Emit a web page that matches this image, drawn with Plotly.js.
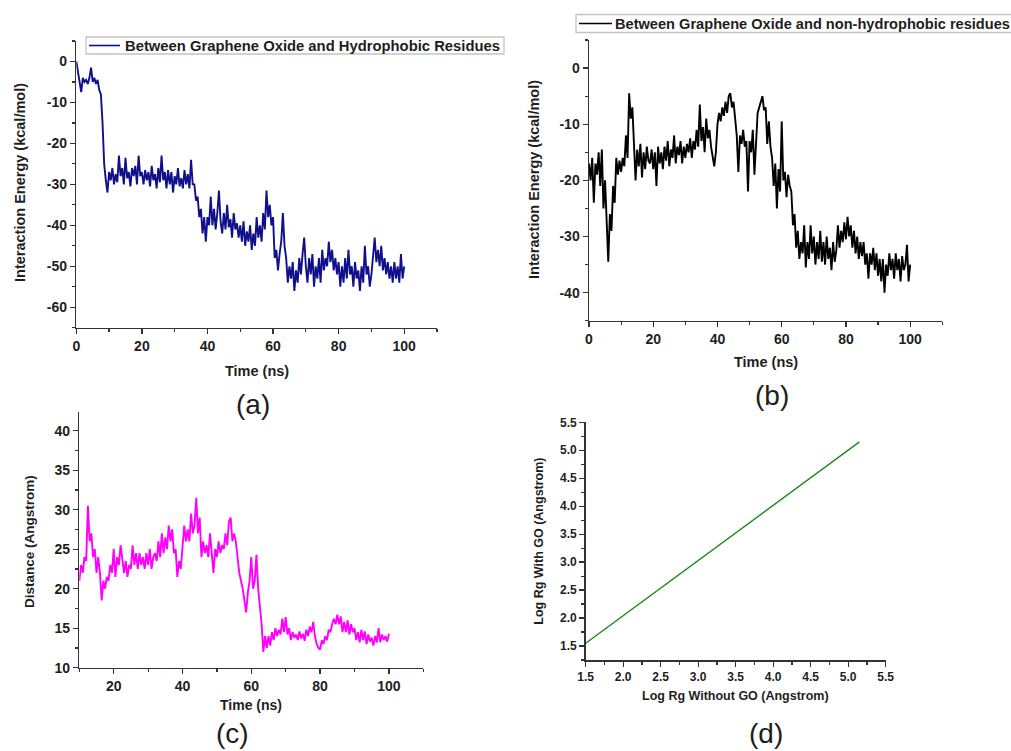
<!DOCTYPE html>
<html>
<head>
<meta charset="utf-8">
<script src="https://cdn.plot.ly/plotly-3.0.1.min.js"></script>
<style>
  html, body { margin: 0; padding: 0; background: #fff; }
  #chart { width: 1011px; height: 751px; }
</style>
</head>
<body>
<div id="chart"></div>
<script>
// ---------------- DATA ----------------
// (a) Interaction energy between GO and hydrophobic residues, sampled every 0.5 ns from 0 to 100 ns
const timeStartA = 0, timeStepA = 0.5;
const energyHydrophobic = [
  0, -2.5, -4, -7.5, -4, -5, -4.5, -5.5, -4, -1.5,
  -5, -4, -5.5, -4.5, -7, -8, -15, -25, -29, -32,
  -27, -29, -26, -30, -27.5, -29.5, -23, -28, -26, -30,
  -23.5, -28.5, -27, -30.5, -26, -28, -25.5, -30, -23, -28,
  -27, -30, -26.5, -29, -27, -30.5, -25.5, -29, -27.5, -31,
  -26, -29.5, -23, -29, -27, -31, -26.5, -30, -27, -32,
  -28, -30, -26, -30.5, -28.5, -31, -26.5, -30, -27.5, -31,
  -24, -30, -30, -34, -33, -38, -36, -42, -38, -44,
  -38, -40, -33, -40, -36, -41, -37, -31.5, -39, -42,
  -37, -41, -35, -40.5, -38.5, -43, -37, -41, -39.5, -43,
  -40, -44, -39, -45, -41.5, -44, -40, -46, -42, -45,
  -38, -43, -40, -44, -37, -41, -31.5, -38, -35, -40,
  -38, -48, -46, -51, -47, -44, -37, -45, -48, -54,
  -50, -53, -49, -56, -51, -54, -48, -52, -47, -43,
  -50, -54, -48, -52, -47, -55, -50, -53, -48, -54,
  -46, -51, -48, -50, -44, -49, -46, -51, -48, -52,
  -49, -55, -50, -54, -48, -53, -46, -52, -50, -55,
  -49, -53, -51, -56, -50, -54, -45, -52, -50, -55,
  -52, -47, -43, -49, -46, -50, -45, -51, -48, -52,
  -49, -53, -50, -54, -49, -53, -50, -54, -47, -53,
  -50
];

// (b) Interaction energy between GO and non-hydrophobic residues, every 0.5 ns from 0 to 100 ns
const timeStartB = 0, timeStepB = 0.5;
const energyNonHydrophobic = [
  -17, -20, -16, -24, -17, -19, -15, -21, -14.5, -25,
  -20, -27, -34.5, -26, -29, -21, -24, -16, -19, -16.5,
  -18.5, -16, -17.5, -12, -16, -4.5, -9, -7, -14, -20,
  -14.5, -17.5, -13.5, -19.5, -15, -18, -14, -16.5, -17, -14.5,
  -18, -15, -21, -14, -17, -15, -18, -14, -16.5, -13,
  -17.5, -14.5, -16, -12, -17, -14, -15.5, -13, -17, -14,
  -16, -13.5, -15, -12.5, -16, -13, -14.5, -11, -14, -6.5,
  -13, -10.5, -15, -9, -12.5, -11, -14, -15.5, -17.5, -15,
  -10, -8, -9.5, -7, -8.5, -6, -8, -5, -4.5, -7,
  -6, -9, -12, -18.5, -12, -13.5, -11, -14, -13, -22,
  -13, -15, -11, -19, -12, -8, -7, -6, -5, -7.5,
  -7, -13.5, -9.5, -14, -16, -21, -17, -25, -18, -22,
  -9.5, -20, -18.5, -23, -19, -21, -22, -28, -26, -32,
  -29, -34, -31, -33, -28, -35.5, -31, -34, -28, -33,
  -30, -35, -31, -34, -29, -34.5, -31, -35, -30, -34,
  -32, -36, -31, -34.5, -32.5, -28, -32, -29, -31, -27.5,
  -30.5, -26.5, -30, -28, -32, -29, -33, -30, -34, -31,
  -33.5, -31, -35, -33, -37.5, -33, -35, -32, -36, -33,
  -37, -34, -38, -34, -40, -35, -37, -33, -36, -34,
  -37.5, -33, -36, -34, -38, -33.5, -36, -35, -31.5, -38,
  -35
];

// (c) Distance, every 0.5 ns from 10 to 100 ns
const timeStartC = 10, timeStepC = 0.5;
const distance = [
  21, 23, 22, 24, 23.5, 30.5, 26, 27, 24, 25,
  22, 24, 22, 18.5, 21, 20, 21.5, 21, 23, 22,
  25, 21.5, 24, 23, 25.5, 24, 22, 23.5, 21.5, 23,
  22.5, 25.5, 23, 24.5, 22.5, 24.5, 23, 24, 22.5, 24.5,
  23, 25, 22.5, 24, 24.5, 23.5, 26, 24, 27, 24.5,
  26.5, 25, 28, 26, 27.5, 24.5, 25, 21.5, 23.5, 22.5,
  25, 28, 26, 27.5, 26, 29.5, 27, 28, 31.5, 27,
  29, 24, 26, 24.5, 25.5, 24, 27, 24, 22, 25,
  24, 26, 24.5, 25.5, 25, 27, 25.5, 28.5, 29, 26,
  27, 26, 24, 22, 21, 20, 18.5, 17, 19.5, 21,
  24, 20, 21, 24.3, 20, 18, 15.5, 12, 14, 12.5,
  14, 12.8, 14.5, 13.5, 15, 14, 14.8, 14.2, 16.2, 14.5,
  16.4, 14.2, 15, 13.5, 14.5, 13.8, 14.2, 13.5, 14.6, 13.7,
  14.3, 13.4, 14.8, 14, 15.2, 14.5, 15.8, 14, 13, 12.5,
  12.3, 13.5, 13, 14, 13.5, 14.8, 14.5, 15.5, 16.2, 15.5,
  16.7, 15.5, 16.5, 14.5, 15.8, 14.5, 16, 14.2, 15.5, 14.5,
  15, 13.5, 14.5, 13.2, 14.8, 13.5, 14.6, 13, 14.2, 13.3,
  13.8, 12.8, 14, 13.2, 15, 13.2, 14.2, 13.5, 14, 13.3,
  14.3
];

// (d) Log Rg with vs without GO
const logRgWithoutGO = [1.5, 5.15];
const logRgWithGO = [1.55, 5.15];

// Tick labels (hyphen-minus as in the original)
const energyTicksA = [-60, -50, -40, -30, -20, -10, 0];
const energyTickTextA = ['-60', '-50', '-40', '-30', '-20', '-10', '0'];
const energyTicksB = [-40, -30, -20, -10, 0];
const energyTickTextB = ['-40', '-30', '-20', '-10', '0'];

// Texts
const legendA = 'Between Graphene Oxide and Hydrophobic Residues';
const legendB = 'Between Graphene Oxide and non-hydrophobic residues';
const energyTitle = 'Interaction Energy (kcal/mol)';
const timeTitle = 'Time (ns)';
const distTitle = 'Distance (Angstrom)';
const rgWithTitle = 'Log Rg With GO (Angstrom)';
const rgWithoutTitle = 'Log Rg Without GO (Angstrom)';
const panelLabels = ['(a)', '(b)', '(c)', '(d)'];

// ---------------- BUILD ----------------
function times(start, step, n) {
  const t = [];
  for (let i = 0; i < n; i++) t.push(+(start + i * step).toFixed(3));
  return t;
}

const W = 1011, H = 751;
const px = v => v / W;
const py = v => 1 - v / H;

const FONT = 'Liberation Sans, Arial, Helvetica, sans-serif';
const AXC = '#333333';
const TXT = '#1e1e1e';
const NAVY = '#10108a';
const LW = 1.9;

function axisBase(extra) {
  return Object.assign({
    showline: true, linecolor: AXC, linewidth: 1.5,
    ticks: 'outside', ticklen: 5, tickwidth: 1.3, tickcolor: AXC,
    showgrid: false, zeroline: false, mirror: false,
    tickfont: { family: FONT, size: 14, color: TXT, weight: 700 },
    fixedrange: true
  }, extra);
}

const traces = [
  {
    x: times(timeStartA, timeStepA, energyHydrophobic.length), y: energyHydrophobic,
    xaxis: 'x', yaxis: 'y', type: 'scatter', mode: 'lines',
    line: { color: NAVY, width: LW }, name: legendA, showlegend: false
  },
  {
    x: times(timeStartB, timeStepB, energyNonHydrophobic.length), y: energyNonHydrophobic,
    xaxis: 'x2', yaxis: 'y2', type: 'scatter', mode: 'lines',
    line: { color: '#000000', width: LW }, name: legendB, showlegend: false
  },
  {
    x: times(timeStartC, timeStepC, distance.length), y: distance,
    xaxis: 'x3', yaxis: 'y3', type: 'scatter', mode: 'lines',
    line: { color: '#ff00ff', width: LW }, showlegend: false
  },
  {
    x: logRgWithoutGO, y: logRgWithGO,
    xaxis: 'x4', yaxis: 'y4', type: 'scatter', mode: 'lines',
    line: { color: '#1a8a1a', width: 1.4 }, showlegend: false
  }
];

function ann(text, x, y, size, angle, weight, xanchor) {
  return {
    text: text, xref: 'paper', yref: 'paper', x: px(x), y: py(y),
    xanchor: xanchor || 'center', yanchor: 'middle', showarrow: false, textangle: angle || 0,
    font: { family: FONT, size: size, color: TXT, weight: weight === undefined ? 700 : weight }
  };
}

function rectShape(x0, y0, x1, y1) {
  return { type: 'rect', xref: 'paper', yref: 'paper', x0: px(x0), x1: px(x1), y0: py(y1), y1: py(y0),
    line: { color: '#c4c4c4', width: 1.3 }, fillcolor: '#ffffff', layer: 'above' };
}
function lineShape(x0, x1, y, color) {
  return { type: 'line', xref: 'paper', yref: 'paper', x0: px(x0), x1: px(x1), y0: py(y), y1: py(y),
    line: { color: color, width: 1.6 }, layer: 'above' };
}

const layout = {
  width: W, height: H,
  margin: { l: 0, r: 0, t: 0, b: 0 },
  paper_bgcolor: '#ffffff', plot_bgcolor: 'rgba(0,0,0,0)',
  showlegend: false,
  // (a)
  xaxis: axisBase({ domain: [px(76.3), px(437)], anchor: 'y', range: [0, 110], tick0: 0, dtick: 20,
    minor: { ticks: 'outside', ticklen: 3, dtick: 10, tickcolor: AXC, tickwidth: 1.2 } }),
  yaxis: axisBase({ domain: [py(327.7), py(41)], anchor: 'x', range: [-65, 5],
    tickmode: 'array', tickvals: energyTicksA, ticktext: energyTickTextA,
    minor: { ticks: 'outside', ticklen: 3, dtick: 5, tick0: 0, tickcolor: AXC, tickwidth: 1.2 } }),
  // (b)
  xaxis2: axisBase({ domain: [px(589), px(942.3)], anchor: 'y2', range: [0, 110], tick0: 0, dtick: 20,
    minor: { ticks: 'outside', ticklen: 3, dtick: 10, tickcolor: AXC, tickwidth: 1.2 } }),
  yaxis2: axisBase({ domain: [py(320.7), py(40)], anchor: 'x2', range: [-45, 5],
    tickmode: 'array', tickvals: energyTicksB, ticktext: energyTickTextB,
    minor: { ticks: 'outside', ticklen: 3, dtick: 5, tick0: 0, tickcolor: AXC, tickwidth: 1.2 } }),
  // (c)
  xaxis3: axisBase({ domain: [px(79.3), px(423.3)], anchor: 'y3', range: [10, 110], tick0: 0, dtick: 20,
    minor: { ticks: 'outside', ticklen: 3, dtick: 10, tickcolor: AXC, tickwidth: 1.2 } }),
  yaxis3: axisBase({ domain: [py(667.7), py(411.7)], anchor: 'x3', range: [10, 42.4], tick0: 10, dtick: 5,
    minor: { ticks: 'outside', ticklen: 3, dtick: 2.5, tickcolor: AXC, tickwidth: 1.2 } }),
  // (d)
  xaxis4: axisBase({ domain: [px(585.7), px(885.7)], anchor: 'y4', range: [1.5, 5.5], tick0: 1.5, dtick: 0.5,
    tickformat: '.1f', tickfont: { family: FONT, size: 12, color: TXT, weight: 700 },
    minor: { ticks: 'outside', ticklen: 3, dtick: 0.25, tickcolor: AXC, tickwidth: 1.2 } }),
  yaxis4: axisBase({ domain: [py(660), py(422.3)], anchor: 'x4', range: [1.25, 5.5], tick0: 1.5, dtick: 0.5,
    tickformat: '.1f', tickfont: { family: FONT, size: 12, color: TXT, weight: 700 },
    minor: { ticks: 'outside', ticklen: 3, dtick: 0.25, tickcolor: AXC, tickwidth: 1.2 } }),
  shapes: [
    rectShape(86, 37, 504, 54),
    lineShape(89, 120, 45.5, NAVY),
    rectShape(576, 14.5, 1030, 32.5),
    lineShape(579, 612, 23.5, '#000000')
  ],
  annotations: [
    ann(legendA, 123, 45.8, 14.8, 0, 700, 'left'),
    ann(legendB, 613, 23.8, 14.6, 0, 700, 'left'),
    ann(energyTitle, 20, 183, 14.5, -90),
    ann(timeTitle, 256.7, 370.7, 14.5, 0),
    ann(energyTitle, 534, 180, 14.5, -90),
    ann(timeTitle, 765.7, 362, 14.5, 0),
    ann(distTitle, 29.3, 541.7, 13.5, -90),
    ann(timeTitle, 251, 705, 14, 0),
    ann(rgWithTitle, 539, 541.7, 12.5, -90),
    ann(rgWithoutTitle, 735.7, 695.7, 12.5, 0),
    ann(panelLabels[0], 253, 405, 28, 0, 400),
    ann(panelLabels[1], 772, 395, 28, 0, 400),
    ann(panelLabels[2], 232, 733, 28, 0, 400),
    ann(panelLabels[3], 766, 733, 28, 0, 400)
  ]
};

Plotly.newPlot('chart', traces, layout, { staticPlot: true, displayModeBar: false });
</script>
</body>
</html>
